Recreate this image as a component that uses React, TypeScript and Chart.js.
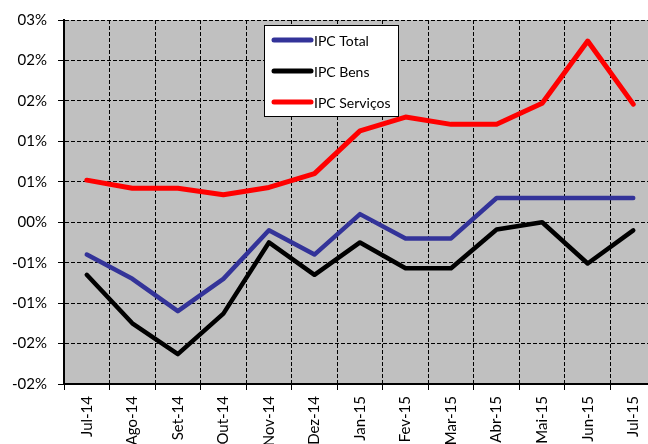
import React, { useEffect, useRef } from 'react';
import { Chart, registerables } from 'chart.js';

Chart.register(...registerables);

const categories = ['Jul-14', 'Ago-14', 'Set-14', 'Out-14', 'Nov-14', 'Dez-14', 'Jan-15', 'Fev-15', 'Mar-15', 'Abr-15', 'Mai-15', 'Jun-15', 'Jul-15'];
const ipcTotal = [-0.4, -0.7, -1.1, -0.7, -0.1, -0.4, 0.1, -0.2, -0.2, 0.3, 0.3, 0.3, 0.3];
const ipcBens = [-0.65, -1.25, -1.63, -1.13, -0.25, -0.65, -0.25, -0.57, -0.57, -0.09, 0.0, -0.51, -0.1];
const ipcServicos = [0.52, 0.42, 0.42, 0.34, 0.43, 0.6, 1.13, 1.3, 1.21, 1.21, 1.47, 2.24, 1.46];
const seriesLabels = ['IPC Total', 'IPC Bens', 'IPC Serviços'];
const seriesColors = ['#333399', '#000000', '#FF0000'];
const yMin = -2;
const yMax = 2.5;
const yStep = 0.5;

const FONT = 'Lato, "Open Sans", sans-serif';

function fmtPct(v: number): string {
  const r = Math.round(Math.abs(v) + 1e-9);
  const sign = v < 0 && r > 0 ? '-' : '';
  return sign + String(r).padStart(2, '0') + '%';
}

const bgPlugin = {
  id: 'bgPlugin',
  beforeDraw(chart: any) {
    const { ctx, chartArea } = chart;
    ctx.save();
    ctx.fillStyle = '#ffffff';
    ctx.fillRect(0, 0, chart.width, chart.height);
    ctx.fillStyle = '#C0C0C0';
    ctx.fillRect(chartArea.left, chartArea.top, chartArea.right - chartArea.left, chartArea.bottom - chartArea.top);
    ctx.restore();
  },
};

const legendPlugin = {
  id: 'boxLegend',
  afterDraw(chart: any) {
    const { ctx } = chart;
    const x0 = 264.5, y0 = 25.5, w = 134, h = 91;
    ctx.save();
    ctx.fillStyle = '#ffffff';
    ctx.fillRect(x0, y0, w, h);
    ctx.strokeStyle = '#000000';
    ctx.lineWidth = 1;
    ctx.strokeRect(x0, y0, w, h);
    const rows = [40, 71, 102];
    chart.data.datasets.forEach((ds: any, i: number) => {
      const y = rows[i];
      ctx.beginPath();
      ctx.strokeStyle = ds.borderColor;
      ctx.lineWidth = 5;
      ctx.lineCap = 'round';
      ctx.moveTo(274, y);
      ctx.lineTo(311, y);
      ctx.stroke();
      ctx.fillStyle = '#000000';
      ctx.font = '14px ' + FONT;
      ctx.textBaseline = 'middle';
      ctx.textAlign = 'left';
      ctx.fillText(ds.label, 314, y + 1);
    });
    ctx.restore();
  },
};

export default function App() {
  const ref = useRef<HTMLCanvasElement | null>(null);

  useEffect(() => {
    if (!ref.current) return;
    const seriesData = [ipcTotal, ipcBens, ipcServicos];
    const chart = new Chart(ref.current, {
      type: 'line',
      data: {
        labels: categories,
        datasets: seriesLabels.map((label, i) => ({
          label,
          data: seriesData[i],
          borderColor: seriesColors[i],
          backgroundColor: seriesColors[i],
          borderWidth: i === 2 ? 5 : 4.5,
          pointRadius: 0,
          pointHoverRadius: 0,
          tension: 0,
          borderJoinStyle: 'round' as const,
          borderCapStyle: 'round' as const,
          fill: false,
        })),
      },
      options: {
        responsive: false,
        animation: false,
        events: [],
        layout: { padding: { top: 20, right: 4, bottom: 0, left: 0 } },
        plugins: {
          legend: { display: false },
          tooltip: { enabled: false },
        },
        scales: {
          x: {
            type: 'category',
            offset: true,
            afterFit(scale: any) {
              scale.height = 60;
            },
            grid: {
              display: true,
              offset: true,
              color: '#000000',
              lineWidth: 1,
              drawTicks: true,
              tickLength: 6,
              tickColor: '#000000',
            },
            border: { display: true, color: '#000000', width: 2, dash: [4, 2] },
            ticks: {
              autoSkip: false,
              maxRotation: 90,
              minRotation: 90,
              padding: 6,
              color: '#000000',
              font: { family: FONT, size: 15 },
            },
          },
          y: {
            type: 'linear',
            min: yMin,
            max: yMax,
            afterFit(scale: any) {
              scale.width = 64;
            },
            grid: {
              display: true,
              color: '#000000',
              lineWidth: 1,
              drawTicks: true,
              tickLength: 6,
              tickColor: '#000000',
            },
            border: { display: true, color: '#000000', width: 2, dash: [4, 2] },
            ticks: {
              stepSize: yStep,
              padding: 11,
              color: '#000000',
              font: { family: FONT, size: 15 },
              callback: (v: any) => fmtPct(Number(v)),
            },
          },
        },
      },
      plugins: [bgPlugin, legendPlugin],
    });
    return () => chart.destroy();
  }, []);

  return (
    <div style={{ position: 'fixed', left: 0, top: 0, width: 648, height: 444, overflow: 'hidden', background: '#ffffff' }}>
      <canvas ref={ref} width={660} height={444} style={{ width: 660, height: 444, display: 'block' }} />
    </div>
  );
}
